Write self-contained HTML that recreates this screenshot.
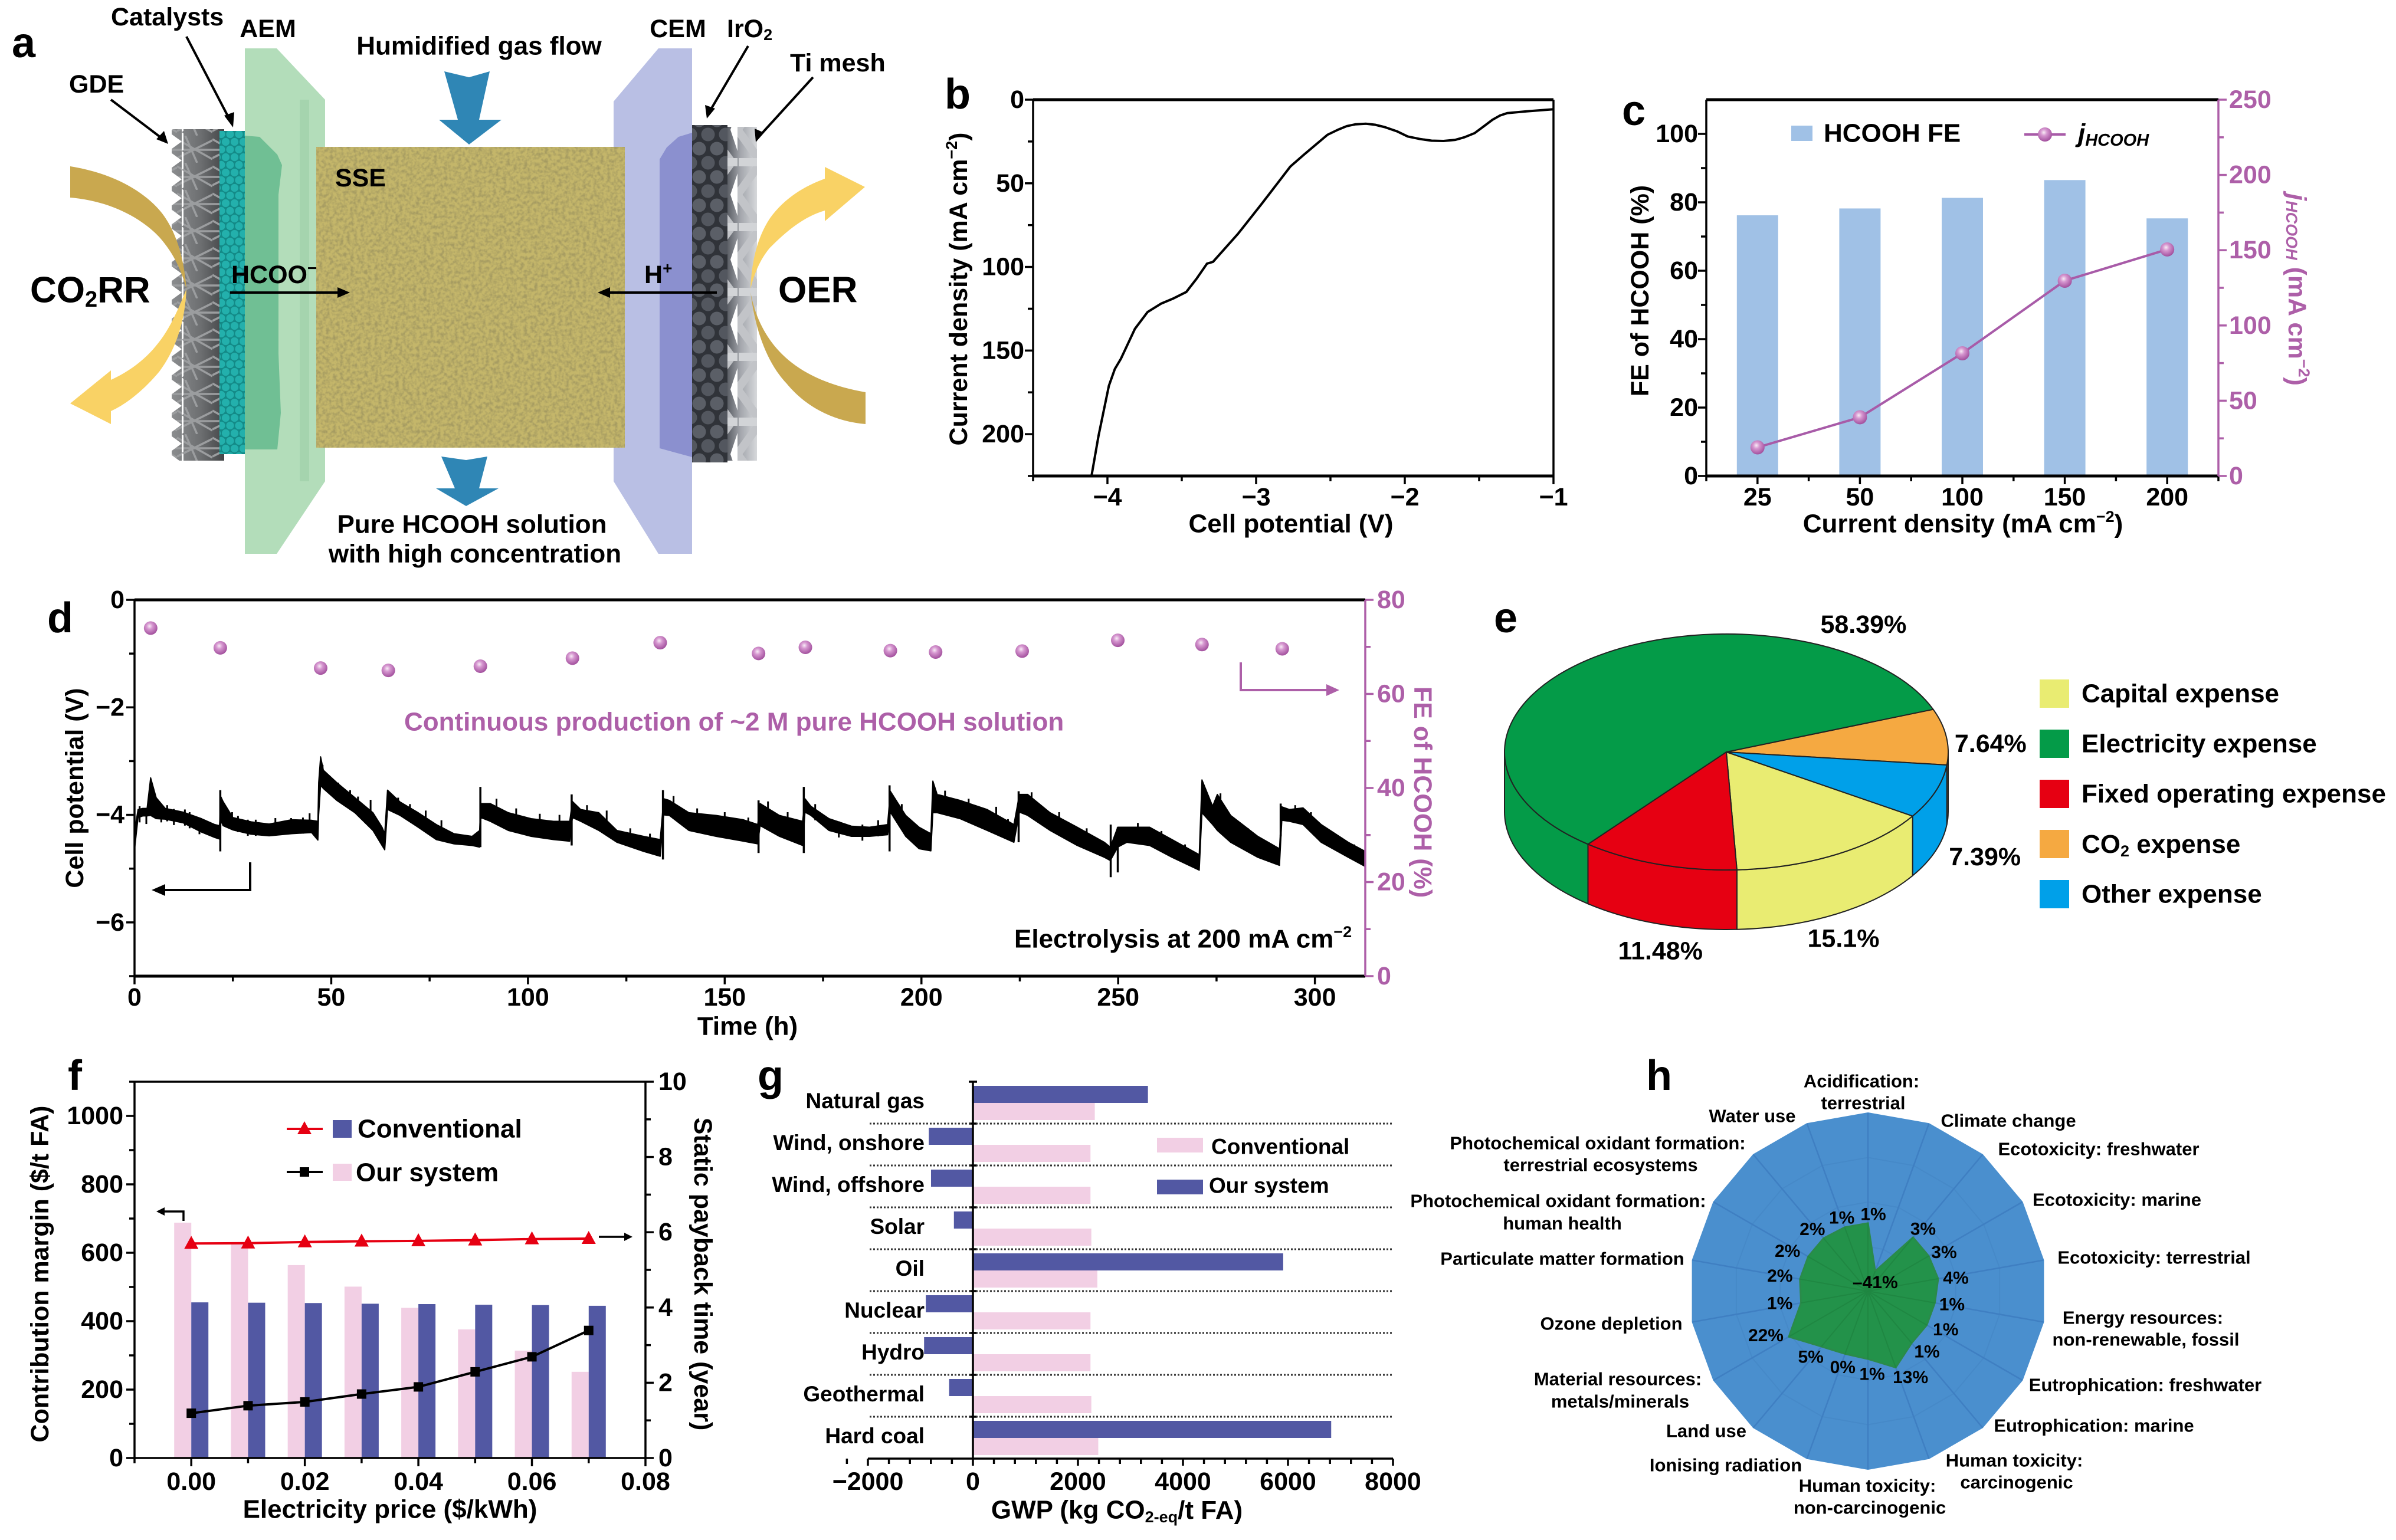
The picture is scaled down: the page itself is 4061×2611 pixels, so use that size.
<!DOCTYPE html>
<html lang="en">
<head>
<meta charset="utf-8">
<title>HCOOH electrolysis figure</title>
<style>
html,body{margin:0;padding:0;background:#fff;width:4061px;height:2611px;overflow:hidden}
svg{display:block}
text{font-family:"Liberation Sans",Arial,sans-serif;font-weight:700;fill:#000;dominant-baseline:central}
.letter{font-size:72px;dominant-baseline:alphabetic}
.t44{font-size:44px}
.t43{font-size:43px}
.t37{font-size:37px}
.t31{font-size:31px}
.mid{text-anchor:middle}
.purple{fill:#ad5fa8}
</style>
</head>
<body>
<svg id="figure" xmlns="http://www.w3.org/2000/svg" width="4061" height="2611" viewBox="0 0 4061 2611">
<defs>
<filter id="grain" x="0" y="0" width="100%" height="100%">
<feTurbulence type="fractalNoise" baseFrequency="0.17" numOctaves="2" seed="4"/>
<feColorMatrix type="matrix" values="0 0 0 0 .38  0 0 0 0 .33  0 0 0 0 .12  2.6 0 0 0 -1"/>
</filter>
<linearGradient id="gdeShade" x1="0" x2="1" y1="0" y2="0">
<stop offset="0" stop-color="#8b8d8f"/>
<stop offset=".55" stop-color="#6d6f71"/>
<stop offset="1" stop-color="#444648"/>
</linearGradient>
<pattern id="gdeHatch" width="60" height="46" patternUnits="userSpaceOnUse">
<path d="M0 38L60 8M0 6L60 40M0 24H60M14 0L34 46" stroke="#9b9d9f" stroke-width="3.5" fill="none"/>
</pattern>
<pattern id="gdeTeeth" width="22" height="32" patternUnits="userSpaceOnUse">
<polygon points="0,0 22,16 0,32" fill="#fff"/>
</pattern>
<pattern id="tealDots" width="15" height="26" patternUnits="userSpaceOnUse">
<rect width="15" height="26" fill="#138a87"/>
<circle cx="7.5" cy="6.5" r="6.6" fill="#23b0ac"/>
<circle cx="0" cy="19.5" r="6.6" fill="#23b0ac"/>
<circle cx="15" cy="19.5" r="6.6" fill="#23b0ac"/>
</pattern>
<pattern id="darkDots" width="30" height="48" patternUnits="userSpaceOnUse">
<rect width="30" height="48" fill="#303339"/>
<circle cx="15" cy="12" r="11.5" fill="#5b5f67"/>
<circle cx="0" cy="36" r="11.5" fill="#53575f"/>
<circle cx="30" cy="36" r="11.5" fill="#53575f"/>
</pattern>
<linearGradient id="meshShade" x1="0" x2="1" y1="0" y2="0">
<stop offset="0" stop-color="#5b5e65"/>
<stop offset=".45" stop-color="#a4a7ad"/>
<stop offset="1" stop-color="#d6d8db"/>
</linearGradient>
<pattern id="meshZig" width="50" height="110" patternUnits="userSpaceOnUse">
<path d="M0 0L40 55L0 110" fill="none" stroke="#c2c4c8" stroke-width="14"/>
<path d="M2 55H50" fill="none" stroke="#d2d4d7" stroke-width="14"/>
<polygon points="38,0 50,0 50,36" fill="#fff"/>
<polygon points="38,110 50,110 50,74" fill="#fff"/>
</pattern>
<radialGradient id="ball" cx=".42" cy=".36" r=".65">
<stop offset="0" stop-color="#f8ecf6"/>
<stop offset=".35" stop-color="#d697d0"/>
<stop offset="1" stop-color="#a14e9c"/>
</radialGradient>
</defs>
<rect width="4061" height="2611" fill="#fff"/>

<g>
<text class="letter" x="20" y="97">a</text>
<rect x="291" y="219" width="89" height="562" fill="url(#gdeShade)"/>
<rect x="291" y="219" width="89" height="562" fill="url(#gdeHatch)"/>
<rect x="291" y="219" width="20" height="562" fill="url(#gdeTeeth)"/>
<rect x="372" y="222" width="43" height="548" fill="url(#tealDots)"/>
<polygon points="415,82 469,82 551,169 551,816 469,939 415,939" fill="#b3ddba"/>
<rect x="508" y="169" width="16" height="647" fill="#a5d4ae"/>
<path d="M415 230L440 232L470 262L478 280L472 330L472 600L476 700L470 762L415 762Z" fill="#70bf94"/>
<polygon points="1116,82 1173,82 1173,939 1116,939 1040,816 1040,172" fill="#b9bfe4"/>
<path d="M1173 225L1150 232L1130 250L1118 270L1118 760L1173 775Z" fill="#8b90cf"/>
<rect x="1233" y="215" width="50" height="566" fill="url(#meshShade)"/>
<rect x="1233" y="215" width="50" height="566" fill="url(#meshZig)"/>
<rect x="1173" y="212" width="60" height="572" fill="url(#darkDots)"/>
<rect x="536" y="249" width="523" height="510" fill="#c4b66a"/>
<rect x="536" y="249" width="523" height="510" filter="url(#grain)"/>
<path d="M119 282C200 295 250 330 275 362C300 395 312 440 316 490C308 460 295 430 270 402C235 365 180 340 119 335Z" fill="#c9a84f"/>
<path d="M316 490C314 540 300 590 270 630C245 660 215 685 188 697L188 719L119 684L188 628L188 644C230 625 265 595 290 548C302 525 310 505 316 490Z" fill="#f9d265"/>
<path d="M1272 495C1280 540 1300 575 1325 600C1360 635 1410 655 1467 665L1467 719C1420 715 1370 695 1333 650C1300 615 1280 560 1272 495Z" fill="#c9a84f"/>
<path d="M1272 490C1274 440 1285 400 1305 370C1330 335 1365 315 1398 303L1398 283L1466 317L1398 375L1398 357C1360 368 1330 395 1305 420C1288 440 1278 465 1272 490Z" fill="#f9d265"/>
<polygon points="753,121 795,131 830,121 812,203 850,203 795,245 744,203 776,203" fill="#2f86b5"/>
<polygon points="748,774 790,780 826,774 812,828 845,828 790,858 739,828 771,828" fill="#2f86b5"/>
<path d="M316 62L392 208M188 169L279 238M1268 78L1201 192M1378 131L1286 232M390 496H575M1215 496H1030" stroke="#000" stroke-width="4" fill="none"/>
<path d="M395 216L380 196L397 190ZM285 244L265 236L278 222ZM1198 201L1195 178L1212 184ZM1281 241L1279 218L1295 225ZM593 496L572 487V505ZM1013 496L1034 487V505Z" fill="#000"/>
<text class="t43" x="188" y="29">Catalysts</text>
<text class="t43 mid" x="454" y="49">AEM</text>
<text class="t43" x="117" y="143">GDE</text>
<text class="t44 mid" x="812" y="78">Humidified gas flow</text>
<text class="t43 mid" x="1149" y="49">CEM</text>
<text class="t43" x="1232" y="49">IrO<tspan dy="10" font-size="27">2</tspan></text>
<text class="t43" x="1339" y="107">Ti mesh</text>
<text class="t43" x="568" y="302">SSE</text>
<text class="t43" x="392" y="466">HCOO<tspan dy="-12" font-size="28">−</tspan></text>
<text class="t43" x="1092" y="466">H<tspan dy="-12" font-size="28">+</tspan></text>
<text x="51" y="492" font-size="62">CO<tspan dy="16" font-size="38">2</tspan><tspan dy="-16">RR</tspan></text>
<text x="1319" y="492" font-size="62">OER</text>
<text class="t44 mid" x="800" y="889">Pure HCOOH solution</text>
<text class="t44 mid" x="805" y="939">with high concentration</text>
</g>

<g id="panelB">
<text class="letter" x="1601" y="184">b</text>
<text class="t44 mid" x="2188" y="888">Cell potential (V)</text>
<text class="t43 mid" x="1625" y="490" transform="rotate(-90 1625 490)">Current density (mA cm<tspan dy="-12" font-size="27">−2</tspan><tspan dy="12">)</tspan></text>
</g>

<g id="panelC">
<text class="letter" x="2749" y="212">c</text>
<text class="t44 mid" x="3327" y="888">Current density (mA cm<tspan dy="-12" font-size="27">−2</tspan><tspan dy="12">)</tspan></text>
<text class="t43 mid" x="2780" y="493" transform="rotate(-90 2780 493)">FE of HCOOH (%)</text>
<text class="t43 mid purple" x="3893" y="491" transform="rotate(90 3893 491)"><tspan font-style="italic">j</tspan><tspan dy="9" font-size="27" font-style="italic">HCOOH</tspan><tspan dy="-9"> (mA cm</tspan><tspan dy="-12" font-size="27">−2</tspan><tspan dy="12">)</tspan></text>
<rect x="3036" y="213" width="36" height="26" fill="#a0c1e6"/>
<text class="t44" x="3091" y="226">HCOOH FE</text>
<line x1="3431" y1="228" x2="3501" y2="228" stroke="#a85ba8" stroke-width="4"/>
<circle cx="3466" cy="228" r="12" fill="url(#ball)"/>
<text class="t44" x="3522" y="226" font-style="italic">j<tspan dy="12" font-size="29">HCOOH</tspan></text>
</g>

<g id="panelD">
<text class="letter" x="80" y="1072">d</text>
<text class="t44 mid" x="1267" y="1740">Time (h)</text>
<text class="t43 mid" x="127" y="1336" transform="rotate(-90 127 1336)">Cell potential (V)</text>
<text class="t43 mid purple" x="2411" y="1343" transform="rotate(90 2411 1343)">FE of HCOOH (%)</text>
<text class="t44 purple" x="685" y="1224">Continuous production of ~2 M pure HCOOH solution</text>
<text class="t44" x="1719" y="1592">Electrolysis at 200 mA cm<tspan dy="-12" font-size="27">−2</tspan></text>
<path d="M424 1462V1509H270" stroke="#000" stroke-width="4" fill="none"/>
<polygon points="257,1509 280,1499 280,1519" fill="#000"/>
<path d="M2103 1123V1170H2255" stroke="#ad5fa8" stroke-width="4" fill="none"/>
<polygon points="2270,1170 2248,1160 2248,1180" fill="#ad5fa8"/>
</g>

<g id="panelE">
<text class="letter" x="2532" y="1072">e</text>
</g>

<g id="panelF">
<text class="letter" x="115" y="1848">f</text>
<text class="t44 mid" x="661" y="2559">Electricity price ($/kWh)</text>
<text class="t43 mid" x="68" y="2160" transform="rotate(-90 68 2160)">Contribution margin ($/t FA)</text>
<text class="t43 mid" x="1191" y="2160" transform="rotate(90 1191 2160)">Static payback time (year)</text>
<path d="M311 2070V2054H275" stroke="#000" stroke-width="3.5" fill="none"/>
<polygon points="265,2054 279,2047 279,2061" fill="#000"/>
<line x1="1015" y1="2097" x2="1062" y2="2097" stroke="#000" stroke-width="3.5"/>
<polygon points="1072,2097 1058,2090 1058,2104" fill="#000"/>
</g>

<g id="panelG">
<text class="letter" x="1284" y="1848">g</text>
<text class="t44 mid" x="1893" y="2560">GWP (kg CO<tspan dy="12" font-size="27">2-eq</tspan><tspan dy="-12">/t FA)</tspan></text>
</g>

<g id="panelH">
<text class="letter" x="2790" y="1848">h</text>
<g class="t31" font-size="31">
<text class="t31 mid" x="3155" y="1833">Acidification:</text>
<text class="t31 mid" x="3158" y="1870">terrestrial</text>
<text class="t31 mid" x="2970" y="1892">Water use</text>
<text class="t31 mid" x="3404" y="1900">Climate change</text>
<text class="t31 mid" x="3557" y="1948">Ecotoxicity: freshwater</text>
<text class="t31 mid" x="2708" y="1938">Photochemical oxidant formation:</text>
<text class="t31 mid" x="2713" y="1975">terrestrial ecosystems</text>
<text class="t31 mid" x="3588" y="2034">Ecotoxicity: marine</text>
<text class="t31 mid" x="2641" y="2036">Photochemical oxidant formation:</text>
<text class="t31 mid" x="2648" y="2074">human health</text>
<text class="t31 mid" x="2648" y="2134">Particulate matter formation</text>
<text class="t31 mid" x="3651" y="2132">Ecotoxicity: terrestrial</text>
<text class="t31 mid" x="2731" y="2244">Ozone depletion</text>
<text class="t31 mid" x="3632" y="2234">Energy resources:</text>
<text class="t31 mid" x="3637" y="2271">non-renewable, fossil</text>
<text class="t31 mid" x="2742" y="2338">Material resources:</text>
<text class="t31 mid" x="2746" y="2376">metals/minerals</text>
<text class="t31 mid" x="3636" y="2348">Eutrophication: freshwater</text>
<text class="t31 mid" x="3549" y="2417">Eutrophication: marine</text>
<text class="t31 mid" x="2892" y="2426">Land use</text>
<text class="t31 mid" x="3414" y="2476">Human toxicity:</text>
<text class="t31 mid" x="3418" y="2513">carcinogenic</text>
<text class="t31 mid" x="2925" y="2484">Ionising radiation</text>
<text class="t31 mid" x="3165" y="2519">Human toxicity:</text>
<text class="t31 mid" x="3169" y="2556">non-carcinogenic</text>
</g>
</g>
</svg>

<script>
// ---------- Panel b data ----------
const bVoltage = [-4.107,-4.06,-3.99,-3.95,-3.91,-3.815,-3.73,-3.64,-3.56,-3.47,-3.40,-3.33,-3.29,-3.12,-2.96,-2.77,-2.68,-2.52,-2.45,-2.39,-2.33,-2.26,-2.2,-2.135,-2.05,-1.98,-1.9,-1.82,-1.74,-1.66,-1.6,-1.53,-1.47,-1.41,-1.36,-1.31,-1.18,-1];
const bCurrent = [225,201,171,161,155,137,127,122,119,115,107,98,97,80,62,40,33,21,18,15.8,14.7,14.4,15,16.4,19,22,23.5,24.5,24.7,24,22.5,20,16,12,9.5,8,7,5.7];
const bXTicks = [-4,-3,-2,-1];
const bXLabels = ['−4','−3','−2','−1'];
const bXMinor = [-4.5,-3.5,-2.5,-1.5];
const bYTicks = [0,50,100,150,200];
const bYLabels = ['0','50','100','150','200'];
const bYMinor = [25,75,125,175,225];

// ---------- Panel c data ----------
const cCategories = ['25','50','100','150','200'];
const cFaradaicEfficiency = [76.2,78.2,81.3,86.5,75.3];
const cPartialCurrent = [19,39,81.5,129.7,150.5];
const cLeftTicks = [0,20,40,60,80,100];
const cLeftLabels = ['0','20','40','60','80','100'];
const cLeftMinor = [10,30,50,70,90];
const cRightTicks = [0,50,100,150,200,250];
const cRightLabels = ['0','50','100','150','200','250'];
const cRightMinor = [25,75,125,175,225];

// ---------- Panel d data ----------
const dTraceHours = [0,0.9,2.1,3.2,4.1,5.5,7.8,12.4,17,20.4,21.6,22.0,22.5,25,29.6,34.2,39.9,45,46.6,46.8,47.3,48,51.4,56,60.6,62.9,63.6,64.3,67.5,72.1,76.7,81.2,85.8,87.7,88.0,90.4,95,100.8,106.5,110.6,111.3,113.4,118,122.6,129.4,133.6,134.5,135.9,140.9,147.8,154.7,158.4,159.0,163.9,169.8,170.4,171.9,176.5,182.2,186.8,191.4,192.1,196,199.4,202.4,202.9,204,209.8,216.7,223.5,224.9,227,232.7,239.6,246.5,248,249.9,252.2,258,263.7,270.6,271.3,274,275.2,278.6,285.5,291,291.6,293.5,297,301.6,308.5,312.8];
const dTraceUpper = [-4.30,-3.90,-3.88,-3.88,-3.31,-3.68,-3.88,-3.95,-4.07,-4.18,-4.20,-3.67,-3.75,-4.05,-4.13,-4.17,-4.09,-4.10,-4.12,-3.40,-2.92,-3.17,-3.40,-3.68,-3.96,-4.23,-4.35,-3.54,-3.76,-3.96,-4.18,-4.35,-4.40,-4.29,-3.79,-3.79,-3.96,-4.07,-4.12,-4.12,-3.75,-3.90,-3.96,-4.29,-4.40,-4.46,-3.70,-3.73,-3.96,-4.01,-4.09,-4.18,-3.79,-4.01,-4.12,-3.70,-3.84,-4.07,-4.21,-4.23,-4.18,-3.56,-4.01,-4.23,-4.35,-3.37,-3.62,-3.73,-3.90,-4.18,-3.62,-3.62,-3.96,-4.23,-4.51,-4.60,-4.23,-4.23,-4.23,-4.46,-4.74,-3.35,-3.84,-3.62,-4.01,-4.40,-4.63,-3.85,-3.90,-3.87,-4.18,-4.51,-4.68];
const dTraceLower = [-4.65,-4.05,-4.02,-4.02,-4.01,-4.07,-4.08,-4.15,-4.32,-4.42,-4.45,-4.10,-4.20,-4.28,-4.36,-4.39,-4.35,-4.33,-4.47,-4.00,-3.45,-3.51,-3.73,-3.96,-4.29,-4.57,-4.65,-3.90,-4.01,-4.23,-4.46,-4.54,-4.57,-4.60,-4.05,-4.12,-4.29,-4.40,-4.46,-4.49,-4.05,-4.12,-4.29,-4.51,-4.68,-4.77,-4.00,-4.01,-4.29,-4.40,-4.49,-4.54,-4.20,-4.40,-4.57,-3.95,-4.01,-4.29,-4.40,-4.40,-4.37,-3.95,-4.40,-4.63,-4.67,-3.96,-3.96,-4.07,-4.29,-4.51,-3.95,-4.01,-4.29,-4.57,-4.79,-4.85,-4.60,-4.51,-4.57,-4.79,-5.03,-3.96,-4.18,-4.29,-4.51,-4.79,-4.94,-4.10,-4.12,-4.18,-4.51,-4.79,-4.96];
const dSpikeHours = [21.8,87.9,111.1,134.3,158.6,170.1,191.9,224.7,248.1,249.9,291.3];
const dSpikeTop = [-3.54,-3.48,-3.62,-3.54,-3.73,-3.48,-3.45,-3.56,-4.18,-4.23,-3.79];
const dSpikeBottom = [-4.68,-4.60,-4.57,-4.83,-4.71,-4.71,-4.68,-4.51,-5.16,-5.07,-4.40];
const dNoiseHours = [1.3,3,6.8,8.3,10,12.8,14,16.5,24.8,26.3,28.8,30.8,35.8,39.8,42.8,44.5,47.8,51.8,54.8,56.8,60,67,70,74,78,92,97,103,108,115,120,126,131,137,143,150,156,161,166,173,179,185,189,195,201,206,212,219,222,228,235,242,255,261,267,276,283,289,295,299,305,310];
const dNoisePeaks = [-3.84,-3.87,-3.84,-3.82,-3.89,-3.90,-3.95,-4.06,-3.95,-4.02,-4.09,-4.09,-4.06,-4.06,-4.05,-3.97,-3.07,-3.40,-3.54,-3.66,-3.72,-3.68,-3.80,-3.92,-4.10,-3.70,-3.88,-3.98,-4.00,-3.82,-3.92,-4.25,-4.35,-3.65,-3.88,-3.95,-4.05,-3.75,-3.95,-3.80,-4.12,-4.18,-4.10,-3.80,-4.30,-3.55,-3.70,-3.85,-4.08,-3.58,-3.95,-4.25,-4.15,-4.30,-4.55,-3.60,-4.25,-4.55,-3.82,-3.95,-4.35,-4.55];
const dFeHours = [4.1,21.8,47.3,64.5,87.9,111.3,133.6,158.6,170.5,192.1,203.6,225.6,249.9,271.3,291.7];
const dFeValues = [74,69.8,65.5,65,65.9,67.6,70.9,68.6,69.9,69.2,68.9,69.1,71.4,70.5,69.6];
const dXTicks = [0,50,100,150,200,250,300];
const dXLabels = ['0','50','100','150','200','250','300'];
const dXMinor = [25,75,125,175,225,275];
const dLeftTicks = [0,-2,-4,-6];
const dLeftLabels = ['0','−2','−4','−6'];
const dLeftMinor = [-1,-3,-5,-7];
const dRightTicks = [0,20,40,60,80];
const dRightLabels = ['0','20','40','60','80'];
const dRightMinor = [10,30,50,70];

// ---------- Panel e data ----------
const pieCategories = ['CO₂ expense','Other expense','Capital expense','Fixed operating expense','Electricity expense'];
const pieValues = [7.64,7.39,15.1,11.48,58.39];
const pieLabels = ['7.64%','7.39%','15.1%','11.48%','58.39%'];

// ---------- Panel f data ----------
const fPrices = [0,0.01,0.02,0.03,0.04,0.05,0.06,0.07];
const fMarginOurs = [688,627,564,501,439,376,314,252];
const fMarginConventional = [455,454,453,451,450,448,447,445];
const fPaybackConventional = [5.70,5.71,5.74,5.76,5.77,5.79,5.82,5.83];
const fPaybackOurs = [1.19,1.39,1.49,1.70,1.89,2.29,2.69,3.39];
const fXTicks = [0,0.02,0.04,0.06,0.08];
const fXLabels = ['0.00','0.02','0.04','0.06','0.08'];
const fXMinor = [-0.01,0.01,0.03,0.05,0.07];
const fLeftTicks = [0,200,400,600,800,1000];
const fLeftLabels = ['0','200','400','600','800','1000'];
const fLeftMinor = [100,300,500,700,900,1100];
const fRightTicks = [0,2,4,6,8,10];
const fRightLabels = ['0','2','4','6','8','10'];
const fRightMinor = [1,3,5,7,9];

// ---------- Panel g data ----------
const gCategories = ['Natural gas','Wind, onshore','Wind, offshore','Solar','Oil','Nuclear','Hydro','Geothermal','Hard coal'];
const gOurSystem = [3333,-840,-798,-362,5909,-897,-930,-453,6823];
const gConventional = [2321,2239,2239,2255,2370,2239,2239,2255,2387];
const gXTicks = [-2000,0,2000,4000,6000,8000];
const gXLabels = ['−2000','0','2000','4000','6000','8000'];
const gXMinor = [-2400,-1600,-1200,-800,-400,400,800,1200,1600,2400,2800,3200,3600,4400,4800,5200,5600,6400,6800,7200,7600];

// ---------- Panel h data ----------
const hCategories = ['Acidification: terrestrial','Climate change','Ecotoxicity: freshwater','Ecotoxicity: marine','Ecotoxicity: terrestrial','Energy resources','Eutrophication: freshwater','Eutrophication: marine','Human toxicity: carcinogenic','Human toxicity: non-carcinogenic','Ionising radiation','Land use','Material resources','Ozone depletion','Particulate matter formation','Photochemical: human health','Photochemical: terrestrial ecosystems','Water use'];
const hValues = [1,-41,3,3,4,1,1,1,13,1,0,5,22,1,2,2,2,1];
const hValueLabels = ['1%','–41%','3%','3%','4%','1%','1%','1%','13%','1%','0%','5%','22%','1%','2%','2%','2%','1%'];
const hRingLevels = [-20,20,60];

// ---------- Helpers ----------
const NS = 'http://www.w3.org/2000/svg';
const PURPLE = '#ad5fa8';
const BLUE_BAR = '#5258a3';
const PINK_BAR = '#f2cfe4';

function add(parent, tag, attrs, text) {
  const el = document.createElementNS(NS, tag);
  for (const k in attrs) el.setAttribute(k, attrs[k]);
  if (text !== undefined) el.textContent = text;
  parent.appendChild(el);
  return el;
}
function linear(d0, d1, r0, r1) {
  return v => r0 + (v - d0) * (r1 - r0) / (d1 - d0);
}
function pts(xs, ys) {
  return xs.map((x, i) => x.toFixed(1) + ',' + ys[i].toFixed(1)).join(' ');
}
function drawLine(parent, x1, y1, x2, y2, stroke, width) {
  const axisLine = add(parent, 'line', {x1, y1, x2, y2, stroke, 'stroke-width': width});
  
  
  return axisLine;
}
function xTicks(parent, values, scale, y, len, stroke) {
  values.forEach(v => {
    const tick = add(parent, 'line', {x1: scale(v), x2: scale(v), y1: y, y2: y + len, stroke, 'stroke-width': 3.5});
    
    
  });
}
function yTicks(parent, values, scale, x, len, stroke) {
  values.forEach(v => {
    const tick = add(parent, 'line', {x1: x, x2: x + len, y1: scale(v), y2: scale(v), stroke, 'stroke-width': 3.5});
    
    
  });
}
function xLabels(parent, values, labels, scale, y) {
  values.forEach((v, i) => {
    const lab = add(parent, 'text', {x: scale(v), y, class: 't43 mid'}, labels[i]);
    
    
  });
}
function yLabels(parent, values, labels, scale, x, anchor, fill) {
  values.forEach((v, i) => {
    const lab = add(parent, 'text', {x, y: scale(v), class: 't43', 'text-anchor': anchor, style: 'fill:' + fill}, labels[i]);
    
    
  });
}

// ---------- Panel b ----------
(function () {
  const g = document.getElementById('panelB');
  const L = 1751, R = 2633, T = 169, B = 807;
  const x = linear(-4.5, -1, L, R);
  const y = linear(0, 225, T, B);
  const curve = add(g, 'polyline', {points: pts(bVoltage.map(x), bCurrent.map(y)), fill: 'none', stroke: '#000', 'stroke-width': 4, 'stroke-linejoin': 'round'});
  
  
  drawLine(g, L, T, R, T, '#000', 5);
  drawLine(g, L, B, R, B, '#000', 5);
  drawLine(g, L, T, L, B, '#000', 3.5);
  drawLine(g, R, T, R, B, '#000', 3.5);
  xTicks(g, bXTicks, x, B, 14, '#000');
  xTicks(g, bXMinor, x, B, 9, '#000');
  yTicks(g, bYTicks, y, L, -14, '#000');
  yTicks(g, bYMinor, y, L, -9, '#000');
  xLabels(g, bXTicks, bXLabels, x, 843);
  yLabels(g, bYTicks, bYLabels, y, 1736, 'end', '#000');
})();

// ---------- Panel c ----------
(function () {
  const g = document.getElementById('panelC');
  const L = 2892, R = 3760, T = 169, B = 807;
  const x = linear(-0.5, 4.5, L, R);
  const yL = linear(0, 110, B, T);
  const yR = linear(0, 250, B, T);
  cFaradaicEfficiency.forEach((v, i) => {
    const bar = add(g, 'rect', {x: x(i) - 35, y: yL(v), width: 70, height: B - yL(v), fill: '#a0c1e6'});
    
    
  });
  const xs = cPartialCurrent.map((v, i) => x(i));
  const line = add(g, 'polyline', {points: pts(xs, cPartialCurrent.map(yR)), fill: 'none', stroke: '#a85ba8', 'stroke-width': 4});
  
  
  cPartialCurrent.forEach((v, i) => {
    const dot = add(g, 'circle', {cx: x(i), cy: yR(v), r: 12, fill: 'url(#ball)'});
    
    
  });
  drawLine(g, L, T, R, T, '#000', 5);
  drawLine(g, L, B, R, B, '#000', 5);
  drawLine(g, L, T, L, B, '#000', 3.5);
  drawLine(g, R, T, R, B, PURPLE, 3.5);
  const idx = cCategories.map((c, i) => i);
  xTicks(g, idx, x, B, 14, '#000');
  xTicks(g, [-0.5, 0.5, 1.5, 2.5, 3.5, 4.5], x, B, 9, '#000');
  yTicks(g, cLeftTicks, yL, L, -14, '#000');
  yTicks(g, cLeftMinor, yL, L, -9, '#000');
  yTicks(g, cRightTicks, yR, R, 14, PURPLE);
  yTicks(g, cRightMinor, yR, R, 9, PURPLE);
  xLabels(g, idx, cCategories, x, 843);
  yLabels(g, cLeftTicks, cLeftLabels, yL, 2878, 'end', '#000');
  yLabels(g, cRightTicks, cRightLabels, yR, 3778, 'start', PURPLE);
})();

// ---------- Panel d ----------
(function () {
  const g = document.getElementById('panelD');
  const L = 228, R = 2314, T = 1017, B = 1655;
  const x = linear(0, 312.8, L, R);
  const yL = linear(0, -7, T, B);
  const yR = linear(0, 80, B, T);
  const up = pts(dTraceHours.map(x), dTraceUpper.map(yL));
  const low = pts(dTraceHours.map(x).reverse(), dTraceLower.map(yL).reverse());
  const trace = add(g, 'polygon', {points: up + ' ' + low, fill: '#000', stroke: '#000', 'stroke-width': 2, 'stroke-linejoin': 'round'});
  
  
  dSpikeHours.forEach((t, i) => {
    const spike = add(g, 'line', {x1: x(t), x2: x(t), y1: yL(dSpikeTop[i]), y2: yL(dSpikeBottom[i]), stroke: '#000', 'stroke-width': 3.5});
    
    
  });
  dNoiseHours.forEach((t, i) => {
    const tooth = add(g, 'line', {x1: x(t), x2: x(t), y1: yL(dNoisePeaks[i]), y2: yL(dNoisePeaks[i] - 0.3), stroke: '#000', 'stroke-width': 3});
    
    
  });
  dFeValues.forEach((v, i) => {
    const dot = add(g, 'circle', {cx: x(dFeHours[i]), cy: yR(v), r: 11.5, fill: 'url(#ball)'});
    
    
  });
  drawLine(g, L, T, R, T, '#000', 5);
  drawLine(g, L, B, R, B, '#000', 5);
  drawLine(g, L, T, L, B, '#000', 3.5);
  drawLine(g, R, T, R, B, PURPLE, 3.5);
  xTicks(g, dXTicks, x, B, 14, '#000');
  xTicks(g, dXMinor, x, B, 9, '#000');
  yTicks(g, dLeftTicks, yL, L, -14, '#000');
  yTicks(g, dLeftMinor, yL, L, -9, '#000');
  yTicks(g, dRightTicks, yR, R, 14, PURPLE);
  yTicks(g, dRightMinor, yR, R, 9, PURPLE);
  xLabels(g, dXTicks, dXLabels, x, 1691);
  yLabels(g, dLeftTicks, dLeftLabels, yL, 211, 'end', '#000');
  yLabels(g, dRightTicks, dRightLabels, yR, 2334, 'start', PURPLE);
})();

// ---------- Panel e ----------
(function () {
  const g = document.getElementById('panelE');
  const cx = 2926, cy = 1275, rx = 376, ry = 200, depth = 101;
  const startDeg = -21.2;
  const colors = ['#f5a941', '#00a0e9', '#e9ec72', '#e60012', '#049b48'];
  const labelDx = [75, 84, 11, 4, 455];
  const labelDy = [12, 111, 143, 147, -55];
  const legendOrder = [2, 4, 3, 0, 1];
  const point = (deg, dy) => {
    const a = deg * Math.PI / 180;
    return [cx + rx * Math.cos(a), cy + ry * Math.sin(a) + dy];
  };
  const total = pieValues.reduce((s, v) => s + v, 0);
  const edges = [startDeg];
  pieValues.forEach(v => edges.push(edges[edges.length - 1] + v / total * 360));
  pieValues.forEach((v, i) => {
    const a0 = Math.max(edges[i], 0), a1 = Math.min(edges[i + 1], 180);
    if (a1 <= a0) return;
    const p = point(a0, 0), q = point(a1, 0), qd = point(a1, depth), pd = point(a0, depth);
    const side = add(g, 'path', {d: `M${p}A${rx} ${ry} 0 0 1 ${q}L${qd}A${rx} ${ry} 0 0 0 ${pd}Z`, fill: colors[i], stroke: '#222', 'stroke-width': 2});
    
    
  });
  pieValues.forEach((v, i) => {
    const p = point(edges[i], 0), q = point(edges[i + 1], 0);
    const large = edges[i + 1] - edges[i] > 180 ? 1 : 0;
    const slice = add(g, 'path', {d: `M${cx} ${cy}L${p}A${rx} ${ry} 0 ${large} 1 ${q}Z`, fill: colors[i], stroke: '#222', 'stroke-width': 2});
    
    
    const mid = point((edges[i] + edges[i + 1]) / 2, 0);
    const lab = add(g, 'text', {x: mid[0] + labelDx[i], y: mid[1] + labelDy[i], class: 'mid', 'font-size': 43}, pieLabels[i]);
    
    
  });
  legendOrder.forEach((idx, row) => {
    const sy = 1152 + row * 85;
    const swatch = add(g, 'rect', {x: 3457, y: sy, width: 50, height: 48, fill: colors[idx]});
    
    
    const txt = add(g, 'text', {x: 3528, y: sy + 24, class: 't44'});
    
    
    const name = pieCategories[idx];
    if (name.indexOf('₂') >= 0) {
      add(txt, 'tspan', {}, 'CO');
      add(txt, 'tspan', {dy: 12, 'font-size': 27}, '2');
      add(txt, 'tspan', {dy: -12}, ' expense');
    } else {
      txt.textContent = name;
    }
  });
})();

// ---------- Panel f ----------
(function () {
  const g = document.getElementById('panelF');
  const L = 228, R = 1094, T = 1834, B = 2472;
  const x = linear(-0.01, 0.08, L, R);
  const yL = linear(0, 1100, B, T);
  const yR = linear(0, 10, B, T);
  const barW = 29;
  fPrices.forEach((p, i) => {
    const pink = add(g, 'rect', {x: x(p) - barW, y: yL(fMarginOurs[i]), width: barW, height: B - yL(fMarginOurs[i]), fill: PINK_BAR});
    
    
    const blue = add(g, 'rect', {x: x(p), y: yL(fMarginConventional[i]), width: barW, height: B - yL(fMarginConventional[i]), fill: BLUE_BAR});
    
    
  });
  const redLine = add(g, 'polyline', {points: pts(fPrices.map(x), fPaybackConventional.map(yR)), fill: 'none', stroke: '#e60012', 'stroke-width': 4});
  
  
  const blackLine = add(g, 'polyline', {points: pts(fPrices.map(x), fPaybackOurs.map(yR)), fill: 'none', stroke: '#000', 'stroke-width': 4});
  
  
  const triangle = (px, py) => `${px},${py - 13} ${px + 12},${py + 9} ${px - 12},${py + 9}`;
  fPrices.forEach((p, i) => {
    const tri = add(g, 'polygon', {points: triangle(x(p), yR(fPaybackConventional[i])), fill: '#e60012'});
    
    
    const sq = add(g, 'rect', {x: x(p) - 8, y: yR(fPaybackOurs[i]) - 8, width: 16, height: 16, fill: '#000'});
    
    
  });
  drawLine(g, L, T, R, T, '#000', 3.5);
  drawLine(g, L, B, R, B, '#000', 3.5);
  drawLine(g, L, T, L, B, '#000', 3.5);
  drawLine(g, R, T, R, B, '#000', 3.5);
  xTicks(g, fXTicks, x, B, 14, '#000');
  xTicks(g, fXMinor, x, B, 9, '#000');
  yTicks(g, fLeftTicks, yL, L, -14, '#000');
  yTicks(g, fLeftMinor, yL, L, -9, '#000');
  yTicks(g, fRightTicks, yR, R, 14, '#000');
  yTicks(g, fRightMinor, yR, R, 9, '#000');
  xLabels(g, fXTicks, fXLabels, x, 2512);
  yLabels(g, fLeftTicks, fLeftLabels, yL, 209, 'end', '#000');
  yLabels(g, fRightTicks, fRightLabels, yR, 1116, 'start', '#000');

  const legendRed = add(g, 'line', {x1: 486, x2: 547, y1: 1914, y2: 1914, stroke: '#e60012', 'stroke-width': 4});
  
  
  const legendTri = add(g, 'polygon', {points: triangle(516, 1914), fill: '#e60012'});
  
  
  const legendBlue = add(g, 'rect', {x: 564, y: 1899, width: 32, height: 30, fill: BLUE_BAR});
  
  
  const legendConv = add(g, 'text', {x: 606, y: 1914, class: 't44'}, 'Conventional');
  
  
  const legendBlack = add(g, 'line', {x1: 486, x2: 547, y1: 1987, y2: 1987, stroke: '#000', 'stroke-width': 4});
  
  
  const legendSq = add(g, 'rect', {x: 508, y: 1979, width: 16, height: 16, fill: '#000'});
  
  
  const legendPink = add(g, 'rect', {x: 564, y: 1973, width: 32, height: 29, fill: PINK_BAR});
  
  
  const legendOurs = add(g, 'text', {x: 603, y: 1988, class: 't44'}, 'Our system');
  
  
})();

// ---------- Panel g ----------
(function () {
  const g = document.getElementById('panelG');
  const T = 1834, B = 2473;
  const x = linear(-2000, 8000, 1471, 2361);
  const rowH = (B - T) / gCategories.length;
  const zero = x(0);
  gCategories.forEach((name, i) => {
    const top = T + i * rowH;
    const blueStart = Math.min(zero, x(gOurSystem[i]));
    const blue = add(g, 'rect', {x: blueStart, y: top + 7, width: Math.abs(x(gOurSystem[i]) - zero), height: 29, fill: BLUE_BAR});
    
    
    const pink = add(g, 'rect', {x: zero, y: top + 36, width: x(gConventional[i]) - zero, height: 29, fill: PINK_BAR});
    
    
    const lab = add(g, 'text', {x: 1567, y: top + rowH / 2 - 3, class: 't37', 'text-anchor': 'end'}, name);
    
    
    const tick = add(g, 'line', {x1: zero - 7, x2: zero + 7, y1: top, y2: top, stroke: '#000', 'stroke-width': 3.5});
    
    
    if (i > 0) {
      const sep = add(g, 'line', {x1: 1474, x2: 2361, y1: top, y2: top, stroke: '#333', 'stroke-width': 3, 'stroke-dasharray': '3 3'});
      
      
    }
  });
  drawLine(g, zero, T, zero, B, '#000', 3.5);
  drawLine(g, x(-2000), B, x(8000), B, '#000', 3.5);
  xTicks(g, gXTicks, x, B, 12, '#000');
  xTicks(g, gXMinor, x, B, 9, '#000');
  xLabels(g, gXTicks, gXLabels, x, 2512);

  const swPink = add(g, 'rect', {x: 1961, y: 1929, width: 78, height: 25, fill: PINK_BAR});
  
  
  const txtConv = add(g, 'text', {x: 2053, y: 1944, class: 't37'}, 'Conventional');
  
  
  const swBlue = add(g, 'rect', {x: 1961, y: 2000, width: 78, height: 25, fill: BLUE_BAR});
  
  
  const txtOurs = add(g, 'text', {x: 2049, y: 2010, class: 't37'}, 'Our system');
  
  
})();

// ---------- Panel h ----------
(function () {
  const g = document.getElementById('panelH');
  const cx = 3166, cy = 2189, R = 302;
  const radius = linear(-60, 100, 0, R);
  const n = hCategories.length;
  const nudgeX = [9,0,17,26,30,29,32,26,25,7,-4,-18,-39,-36,-34,-35,-19,-5];
  const nudgeY = [-15,19,-14,-6,-1,3,8,15,17,26,23,18,-2,1,-5,-9,-15,-16];
  const polar = (i, r) => {
    const a = i * 2 * Math.PI / n;
    return [cx + r * Math.sin(a), cy - r * Math.cos(a)];
  };
  const ring = r => hCategories.map((c, i) => polar(i, r).map(v => v.toFixed(1)).join(',')).join(' ');
  const outer = add(g, 'polygon', {points: ring(R), fill: '#4a8fce', stroke: '#4a8fce', 'stroke-width': 2});
  
  
  hRingLevels.forEach(level => {
    const rr = add(g, 'polygon', {points: ring(radius(level)), fill: 'none', stroke: '#4689c8', 'stroke-width': 2});
    
    
  });
  hCategories.forEach((c, i) => {
    const p = polar(i, R);
    const spoke = add(g, 'line', {x1: cx, y1: cy, x2: p[0], y2: p[1], stroke: '#3f7fc2', 'stroke-width': 2.5});
    
    
  });
  const shape = hValues.map((v, i) => polar(i, radius(v)).map(c => c.toFixed(1)).join(',')).join(' ');
  const area = add(g, 'polygon', {points: shape, fill: '#23924a', stroke: '#2b8a4a', 'stroke-width': 3});
  
  
  hCategories.forEach((c, i) => {
    const p = polar(i, radius(hValues[i]));
    const inner = add(g, 'line', {x1: cx, y1: cy, x2: p[0], y2: p[1], stroke: '#1f8742', 'stroke-width': 2});
    
    
  });
  hValues.forEach((v, i) => {
    const p = polar(i, radius(v));
    const lab = add(g, 'text', {x: p[0] + nudgeX[i], y: p[1] + nudgeY[i], class: 'mid', 'font-size': 30}, hValueLabels[i]);
    
    
  });
})();
</script>
</body>
</html>
